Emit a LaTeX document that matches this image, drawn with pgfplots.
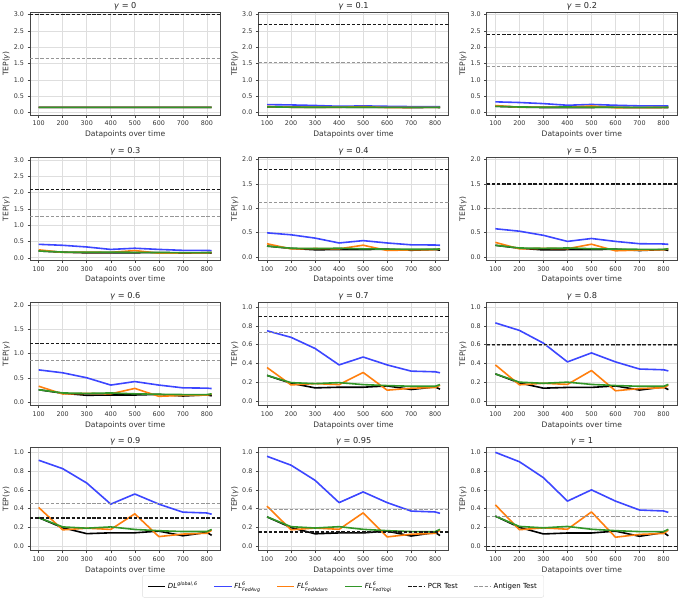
\documentclass[border=0pt]{standalone}
\usepackage{fontspec}
\setmainfont{DejaVu Sans}
\usepackage{pgfplots}
\usepackage{pgfplotstable}
\pgfplotsset{compat=1.18}
\usepgfplotslibrary{groupplots}

\definecolor{cavg}{RGB}{60,70,255}
\definecolor{cadam}{RGB}{255,127,14}
\definecolor{cyogi}{RGB}{50,150,40}
\definecolor{cant}{RGB}{150,150,150}
\definecolor{cgrid}{RGB}{222,222,222}
\definecolor{cframe}{RGB}{70,70,70}

% TEP(gamma) of every model, one table per gamma
\pgfplotstableread{
x dl avg adam yogi
100 0.160 0.160 0.160 0.160
200 0.161 0.161 0.161 0.161
300 0.160 0.160 0.160 0.160
400 0.161 0.161 0.161 0.161
500 0.160 0.160 0.160 0.160
600 0.161 0.161 0.161 0.161
700 0.160 0.160 0.160 0.160
800 0.161 0.161 0.161 0.161
820 0.160 0.160 0.160 0.160
}\tabGa
\pgfplotstableread{
x dl avg adam yogi
100 0.176 0.244 0.188 0.176
200 0.164 0.234 0.1615 0.165
300 0.157 0.217 0.1635 0.1635
400 0.158 0.192 0.162 0.165
500 0.158 0.204 0.1805 0.162
600 0.160 0.192 0.1535 0.1605
700 0.1545 0.1825 0.1565 0.1595
800 0.1585 0.1815 0.1575 0.1595
820 0.155 0.180 0.161 0.162
}\tabGb
\pgfplotstableread{
x dl avg adam yogi
100 0.192 0.328 0.216 0.192
200 0.168 0.308 0.163 0.170
300 0.154 0.274 0.167 0.167
400 0.156 0.224 0.164 0.170
500 0.156 0.248 0.201 0.164
600 0.160 0.224 0.147 0.161
700 0.149 0.205 0.153 0.159
800 0.157 0.203 0.155 0.159
820 0.150 0.200 0.162 0.164
}\tabGc
\pgfplotstableread{
x dl avg adam yogi
100 0.208 0.412 0.244 0.208
200 0.172 0.382 0.1645 0.175
300 0.151 0.331 0.1705 0.1705
400 0.154 0.256 0.166 0.175
500 0.154 0.292 0.2215 0.166
600 0.160 0.256 0.1405 0.1615
700 0.1435 0.2275 0.1495 0.1585
800 0.1555 0.2245 0.1525 0.1585
820 0.145 0.220 0.163 0.166
}\tabGd
\pgfplotstableread{
x dl avg adam yogi
100 0.224 0.496 0.272 0.224
200 0.176 0.456 0.166 0.180
300 0.148 0.388 0.174 0.174
400 0.152 0.288 0.168 0.180
500 0.152 0.336 0.242 0.168
600 0.160 0.288 0.134 0.162
700 0.138 0.250 0.146 0.158
800 0.154 0.246 0.150 0.158
820 0.140 0.240 0.164 0.168
}\tabGe
\pgfplotstableread{
x dl avg adam yogi
100 0.240 0.580 0.300 0.240
200 0.180 0.530 0.1675 0.185
300 0.145 0.445 0.1775 0.1775
400 0.150 0.320 0.170 0.185
500 0.150 0.380 0.2625 0.170
600 0.160 0.320 0.1275 0.1625
700 0.1325 0.2725 0.1425 0.1575
800 0.1525 0.2675 0.1475 0.1575
820 0.135 0.260 0.165 0.170
}\tabGf
\pgfplotstableread{
x dl avg adam yogi
100 0.256 0.664 0.328 0.256
200 0.184 0.604 0.169 0.190
300 0.142 0.502 0.181 0.181
400 0.148 0.352 0.172 0.190
500 0.148 0.424 0.283 0.172
600 0.160 0.352 0.121 0.163
700 0.127 0.295 0.139 0.157
800 0.151 0.289 0.145 0.157
820 0.130 0.280 0.166 0.172
}\tabGg
\pgfplotstableread{
x dl avg adam yogi
100 0.272 0.748 0.356 0.272
200 0.188 0.678 0.1705 0.195
300 0.139 0.559 0.1845 0.1845
400 0.146 0.384 0.174 0.195
500 0.146 0.468 0.3035 0.174
600 0.160 0.384 0.1145 0.1635
700 0.1215 0.3175 0.1355 0.1565
800 0.1495 0.3105 0.1425 0.1565
820 0.125 0.300 0.167 0.174
}\tabGh
\pgfplotstableread{
x dl avg adam yogi
100 0.288 0.832 0.384 0.288
200 0.192 0.752 0.172 0.200
300 0.136 0.616 0.188 0.188
400 0.144 0.416 0.176 0.200
500 0.144 0.512 0.324 0.176
600 0.160 0.416 0.108 0.164
700 0.116 0.340 0.132 0.156
800 0.148 0.332 0.140 0.156
820 0.120 0.320 0.168 0.176
}\tabGi
\pgfplotstableread{
x dl avg adam yogi
100 0.304 0.916 0.412 0.304
200 0.196 0.826 0.1735 0.205
300 0.133 0.673 0.1915 0.1915
400 0.142 0.448 0.178 0.205
500 0.142 0.556 0.3445 0.178
600 0.160 0.448 0.1015 0.1645
700 0.1105 0.3625 0.1285 0.1555
800 0.1465 0.3535 0.1375 0.1555
820 0.115 0.340 0.169 0.178
}\tabGj
\pgfplotstableread{
x dl avg adam yogi
100 0.312 0.958 0.426 0.312
200 0.198 0.863 0.17425 0.2075
300 0.1315 0.7015 0.19325 0.19325
400 0.141 0.464 0.179 0.2075
500 0.141 0.578 0.35475 0.179
600 0.160 0.464 0.09825 0.16475
700 0.10775 0.37375 0.12675 0.15525
800 0.14575 0.36425 0.13625 0.15525
820 0.1125 0.350 0.1695 0.179
}\tabGk
\pgfplotstableread{
x dl avg adam yogi
100 0.320 1.000 0.440 0.320
200 0.200 0.900 0.175 0.210
300 0.130 0.730 0.195 0.195
400 0.140 0.480 0.180 0.210
500 0.140 0.600 0.365 0.180
600 0.160 0.480 0.095 0.165
700 0.105 0.385 0.125 0.155
800 0.145 0.375 0.135 0.155
820 0.110 0.360 0.170 0.180
}\tabGl

% one panel: table, gamma, ymin, ymax, yticks, PCR level, antigen level, extra options
\newcommand{\panel}[8]{%
  \nextgroupplot[title={\textit{γ} = #2}, ymin=#3, ymax=#4, ytick={#5}, #8]
  \addplot[black] table[x=x,y=dl]{#1};
  \addplot[cavg] table[x=x,y=avg]{#1};
  \addplot[cadam] table[x=x,y=adam]{#1};
  \addplot[cyogi] table[x=x,y=yogi]{#1};
  \addplot[black!90, line width=1.2pt, dash pattern=on 3.4pt off 1.8pt] coordinates {(64,#6) (856,#6)};
  \addplot[cant, line width=0.95pt, dash pattern=on 3.4pt off 1.8pt] coordinates {(64,#7) (856,#7)};
}

\newcommand{\sub}[1]{\mbox{\fontsize{4.8}{5}\selectfont\itshape #1}}

\begin{document}
\begin{tikzpicture}
\begin{groupplot}[
  group style={group size=3 by 4, horizontal sep=38bp, vertical sep=42bp},
  scale only axis, width=190bp, height=103bp,
  xmin=64, xmax=856, xtick={100,200,...,800},
  /pgf/number format/assume math mode=true,
  yticklabel style={/pgf/number format/.cd, fixed, fixed zerofill, precision=1},
  ticklabel style={font=\fontsize{6.4}{7}\selectfont, text=black!80},
  tick align=outside, xtick pos=lower, ytick pos=left,
  major tick length=2.5bp, tick style={cframe, line width=0.5pt},
  grid=major, grid style={cgrid, line width=0.6pt},
  axis line style={cframe, line width=0.75pt},
  every axis plot/.append style={line width=1.6pt, no markers, line join=round},
  xlabel={Datapoints over time},
  ylabel={TEP(\textit{γ})},
  label style={font=\fontsize{7.6}{8}\selectfont, text=black!80},
  xlabel style={yshift=2bp},
  ylabel style={yshift=-3bp},
  title style={font=\fontsize{8.2}{9}\selectfont, text=black!85, yshift=-7.5bp},
]
\panel{\tabGa}{0}{-0.08}{3.08}{0,0.5,...,3.0}{3.0}{1.67}{}
\panel{\tabGb}{0.1}{-0.08}{3.08}{0,0.5,...,3.0}{2.7}{1.535}{}
\panel{\tabGc}{0.2}{-0.08}{3.08}{0,0.5,...,3.0}{2.4}{1.40}{}
\panel{\tabGd}{0.3}{-0.08}{3.08}{0,0.5,...,3.0}{2.1}{1.265}{}
\panel{\tabGe}{0.4}{-0.07}{2.05}{0,0.5,...,2.0}{1.8}{1.13}{}
\panel{\tabGf}{0.5}{-0.07}{2.05}{0,0.5,...,2.0}{1.5}{0.995}{}
\panel{\tabGg}{0.6}{-0.07}{2.05}{0,0.5,...,2.0}{1.2}{0.86}{}
\panel{\tabGh}{0.7}{-0.05}{1.05}{0,0.2,...,1.0}{0.9}{0.725}{}
\panel{\tabGi}{0.8}{-0.05}{1.05}{0,0.2,...,1.0}{0.6}{0.59}{}
\panel{\tabGj}{0.9}{-0.05}{1.05}{0,0.2,...,1.0}{0.3}{0.455}{}
\panel{\tabGk}{0.95}{-0.05}{1.05}{0,0.2,...,1.0}{0.15}{0.3875}{
  legend columns=6,
  legend style={at={(0.445,-0.235)}, anchor=north, draw=cgrid, rounded corners=2pt,
    font=\fontsize{7}{8}\selectfont, inner xsep=5pt, inner ysep=5pt,
    /tikz/every even column/.append style={column sep=14pt}},
  legend cell align=left,
  legend entries={
    {\textit{DL}$^{\sub{global,\,6}}$},
    {\textit{FL}$^{\sub{6}}_{\sub{FedAvg}}$},
    {\textit{FL}$^{\sub{6}}_{\sub{FedAdam}}$},
    {\textit{FL}$^{\sub{6}}_{\sub{FedYogi}}$},
    {PCR Test},
    {Antigen Test}}}
\panel{\tabGl}{1}{-0.05}{1.05}{0,0.2,...,1.0}{0.0}{0.32}{}
\end{groupplot}
\pgfresetboundingbox
\useasboundingbox ([xshift=-30bp,yshift=12bp]group c1r1.north west) rectangle ([xshift=1bp,yshift=-52bp]group c3r4.south east);
\end{tikzpicture}
\end{document}
